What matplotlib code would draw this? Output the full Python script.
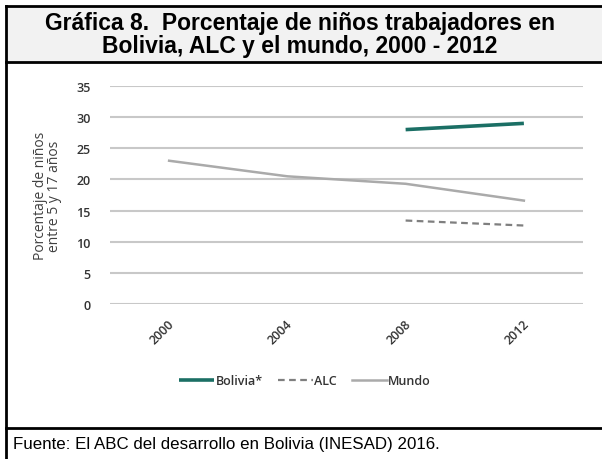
import matplotlib.pyplot as plt
from matplotlib.lines import Line2D
from matplotlib.patches import Rectangle
from matplotlib.transforms import ScaledTranslation

years = ["2000", "2004", "2008", "2012"]
bolivia = [None, None, 28.0, 29.0]
alc = [None, None, 13.4, 12.6]
mundo = [23.0, 20.5, 19.3, 16.6]
y_ticks = [0, 5, 10, 15, 20, 25, 30, 35]

W, H = 602, 460


def fx(px):
    return px / W


def fy(py):
    return 1 - py / H


def main(output="out.png"):
    fig = plt.figure(figsize=(W / 100, H / 100), dpi=100)

    # frame around the chart, in the style of the source document
    fig.add_artist(Rectangle((fx(6), fy(63)), 1 - fx(6), fy(7) - fy(63),
                             transform=fig.transFigure, facecolor="#f2f2f2",
                             edgecolor="none", zorder=0))
    for xs, ys in [((6, 602), (7, 7)), ((6, 602), (63, 63)),
                   ((6, 602), (429, 429)), ((6, 6), (7, 460))]:
        fig.add_artist(Line2D([fx(x) for x in xs], [fy(y) for y in ys],
                              transform=fig.transFigure, color="black", lw=2))

    fig.text(fx(300), fy(35),
             "Gráfica 8.  Porcentaje de niños trabajadores en\n"
             "Bolivia, ALC y el mundo, 2000 - 2012",
             ha="center", va="center", fontsize=16.5, fontweight="bold",
             family="Liberation Sans", linespacing=1.0)
    fig.text(fx(13), fy(445), "Fuente: El ABC del desarrollo en Bolivia (INESAD) 2016.",
             ha="left", va="center", fontsize=12.2, family="Liberation Sans")

    ax = fig.add_axes([fx(110), fy(305), fx(583) - fx(110), fy(87) - fy(305)])
    x = list(range(len(years)))

    def pts(vals):
        return [i for i, v in zip(x, vals) if v is not None], [v for v in vals if v is not None]

    ax.plot(*pts(bolivia), color="#1b6f65", lw=2.6, label="Bolivia*",
            solid_capstyle="butt", zorder=3)
    ax.plot(*pts(alc), color="#7f7f7f", lw=1.6, ls=(0, (3, 2)), label="ALC", zorder=3)
    ax.plot(*pts(mundo), color="#aaaaaa", lw=1.8, label="Mundo", zorder=3)

    ax.set_xlim(-0.5, 3.5)
    ax.set_ylim(0, 35)
    ax.set_yticks(y_ticks)
    ax.set_xticks(x)
    ax.set_xticklabels(years, rotation=45)
    ax.yaxis.grid(True, color="#c8c8c8", lw=1.5)
    ax.set_axisbelow(True)
    for s in ax.spines.values():
        s.set_visible(False)
    ax.tick_params(length=0, labelsize=9, labelcolor="#333333")
    ax.tick_params(axis="y", pad=14)
    ax.tick_params(axis="x", pad=9)
    shift = ScaledTranslation(-7 / 100, 0, fig.dpi_scale_trans)
    for lbl in ax.get_xticklabels():
        lbl.set_transform(lbl.get_transform() + shift)
    for lbl in ax.get_xticklabels() + ax.get_yticklabels():
        lbl.set_family("Open Sans")
        lbl.set_fontweight(600)
    ax.set_ylabel("Porcentaje de niños\nentre 5 y 17 años", fontsize=10,
                  family="Open Sans", color="#404040", labelpad=10, linespacing=0.95)

    fig.legend(loc="center", bbox_to_anchor=(fx(305), fy(382)), ncol=3, frameon=False,
               handlelength=2.8, handletextpad=0.1, columnspacing=1.2,
               prop={"family": "Open Sans", "size": 9, "weight": 600})
    for t in fig.legends[0].get_texts():
        t.set_color("#333333")

    fig.savefig(output, dpi=100)


if __name__ == "__main__":
    main()
